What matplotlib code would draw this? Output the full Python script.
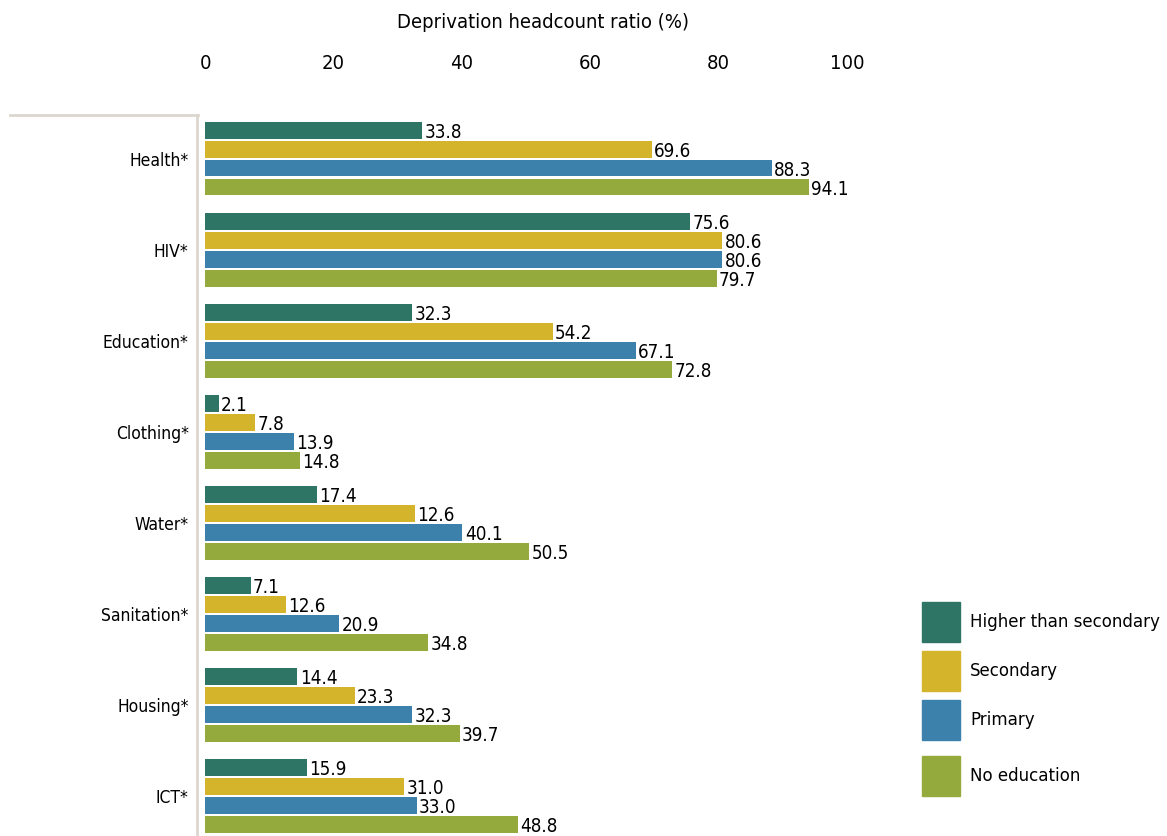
import matplotlib
matplotlib.use('Agg')
import matplotlib.pyplot as plt
from matplotlib.patches import Rectangle
from matplotlib.lines import Line2D

plt.rcParams['font.family'] = ['DejaVu Sans']
plt.rcParams['font.stretch'] = 'condensed'

# ------------------------------------------------------------
# data
# ------------------------------------------------------------
categories = ['Health*', 'HIV*', 'Education*', 'Clothing*', 'Water*',
              'Sanitation*', 'Housing*', 'ICT*']
series = ['Higher than secondary', 'Secondary', 'Primary', 'No education']
colors = ['#2e7565', '#d3b42b', '#3c81ab', '#95aa3c']

higher    = [33.8, 75.6, 32.3,  2.1, 17.4,  7.1, 14.4, 15.9]
secondary = [69.6, 80.6, 54.2,  7.8, 32.7, 12.6, 23.3, 31.0]
primary   = [88.3, 80.6, 67.1, 13.9, 40.1, 20.9, 32.3, 33.0]
no_educ   = [94.1, 79.7, 72.8, 14.8, 50.5, 34.8, 39.7, 48.8]
values = [higher, secondary, primary, no_educ]

# printed labels; the source prints 12.6 on the Water/Secondary bar
labels = [[f'{v:.1f}' for v in vals] for vals in values]
labels[1][4] = '12.6'

# ------------------------------------------------------------
# figure
# ------------------------------------------------------------
W, H = 1167, 836
fig = plt.figure(figsize=(W / 100, H / 100), dpi=100, facecolor='white')
ax = fig.add_axes([197 / W, 0, 650 / W, 721 / H])

group_gap = 4.8
offsets = [-1.5, -0.5, 0.5, 1.5]
centers = [i * group_gap for i in range(len(categories))]

for s, (vals, col) in enumerate(zip(values, colors)):
    ys = [c + offsets[s] for c in centers]
    ax.barh(ys, vals, height=0.88, color=col, label=series[s])
    for y, v, t in zip(ys, vals, labels[s]):
        ax.text(v + 0.35, y + 0.12, t, va='center', ha='left', fontsize=13.5)

ax.set_xlim(-1.25, 100)
ax.set_ylim(centers[-1] + 2.1, -2.3)

ax.xaxis.tick_top()
ax.set_xticks(range(0, 101, 20))
ax.tick_params(axis='x', length=0, pad=30, labelsize=14.5)
ax.set_yticks(centers)
ax.set_yticklabels(categories)
ax.tick_params(axis='y', length=0, pad=6, labelsize=12.5)

for sp in ['top', 'right', 'bottom']:
    ax.spines[sp].set_visible(False)
ax.spines['left'].set_color('#dcd6cf')
ax.spines['left'].set_linewidth(2)

# separator line at top left
fig.add_artist(Line2D([10 / W, 198 / W], [721 / H, 721 / H],
                      color='#dcd6cf', linewidth=2))

fig.text(543 / W, 1 - 23 / H, 'Deprivation headcount ratio (%)',
         ha='center', va='center', fontsize=14.5)

# legend
leg_top = [602, 651, 700, 756]
for s in range(len(series)):
    y0 = leg_top[s]
    fig.add_artist(Rectangle((922 / W, 1 - (y0 + 40) / H), 38 / W, 40 / H,
                             transform=fig.transFigure, color=colors[s]))
    fig.text(970 / W, 1 - (y0 + 20) / H, series[s], ha='left', va='center',
             fontsize=13.3)

fig.savefig('out.png', dpi=100, facecolor='white')
